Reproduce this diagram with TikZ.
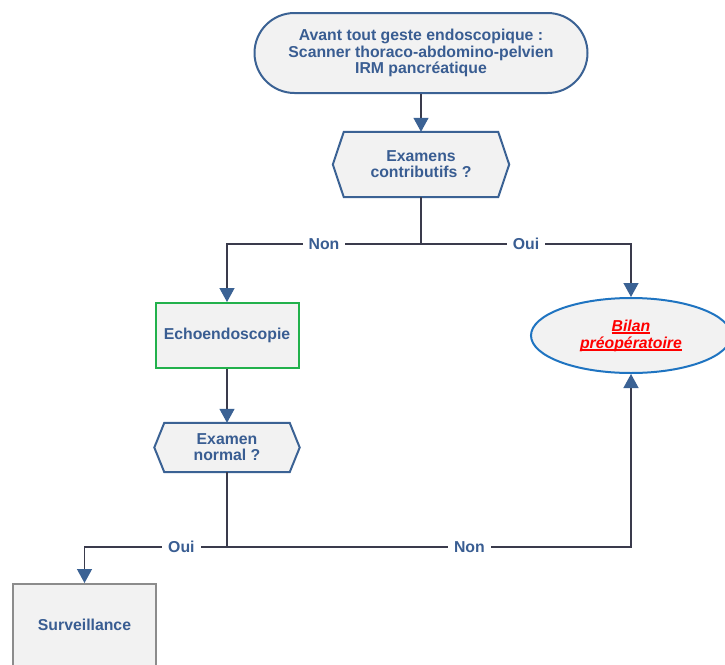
\documentclass[tikz,border=0pt]{standalone}
\usepackage{fontspec}
\setmainfont{Liberation Sans}
\usetikzlibrary{arrows.meta,shapes.geometric,backgrounds}
\definecolor{txtblue}{HTML}{395D92}
\definecolor{edgeblue}{HTML}{3B6294}
\definecolor{linegray}{HTML}{3A3B4C}
\definecolor{boxfill}{HTML}{F2F2F2}
\definecolor{okgreen}{HTML}{22B14C}
\definecolor{ellblue}{HTML}{1F74C1}
\definecolor{boxgray}{HTML}{8C8C8C}

% hexagonal frame behind a named node, #2 = chamfer width
\newcommand\hexframe[2]{%
  \begin{scope}[on background layer]
    \filldraw[hexline] (#1.west) -- ([xshift=#2]#1.north west) -- ([xshift=-#2]#1.north east)
      -- (#1.east) -- ([xshift=-#2]#1.south east) -- ([xshift=#2]#1.south west) -- cycle;
  \end{scope}}

% thick underline for the red link text
\newcommand\thickul[1]{\setbox0\hbox{#1}\leavevmode\rlap{\raisebox{-2.6pt}{\rule{\wd0}{1.4pt}}}\box0}

\begin{document}
\begin{tikzpicture}[x=1pt,y=-1pt,
  every node/.style={font=\fontsize{15.8}{16.2}\selectfont\bfseries, text=txtblue, align=center, inner sep=0pt},
  startbox/.style={draw=edgeblue, line width=2pt, fill=boxfill, rounded corners=40pt,
                   minimum width=333pt, minimum height=80pt},
  hexline/.style={draw=edgeblue, line width=2pt, fill=boxfill},
  echobox/.style={draw=okgreen, line width=2pt, fill=boxfill, minimum width=143pt, minimum height=65pt},
  endbox/.style={draw=ellblue, line width=2pt, fill=boxfill, ellipse, minimum width=200pt, minimum height=75pt},
  survbox/.style={draw=boxgray, line width=2pt, fill=boxfill, minimum width=143pt, minimum height=82pt},
  conn/.style={draw=linegray, line width=1.4pt},
  arr/.style={conn, -{Triangle[width=15pt,length=14pt,color=edgeblue]}},
  lab/.style={fill=white, inner xsep=6pt, inner ysep=2pt}
]
\useasboundingbox (0,0) rectangle (725,664);

% nodes
\node[startbox] (start) at (421,53) {Avant tout geste endoscopique :\\Scanner thoraco-abdomino-pelvien\\IRM pancréatique};
\node[minimum width=176pt, minimum height=65pt] (q1) at (421,164.5) {Examens\\contributifs ?};
\hexframe{q1}{11pt}
\node[echobox] (echo) at (227,335.5) {Echoendoscopie};
\node[endbox, font=\fontsize{15.8}{17}\selectfont\bfseries\itshape, text=red] (bilan) at (631,335.5)
  {\thickul{Bilan}\\\thickul{préopératoire}};
\node[minimum width=145pt, minimum height=49pt] (q2) at (227,447.5) {Examen\\normal ?};
\hexframe{q2}{10pt}
\node[survbox] (surv) at (84.5,625) {Surveillance};

\coordinate (split1) at (421,244);
\coordinate (split2) at (227,547);

% connectors
\draw[arr] (start) -- (q1);
\draw[conn] (q1.south) -- (split1);
\draw[arr] (split1) -| node[lab,pos=0.25] {Non} (echo.north);
\draw[arr] (split1) -| node[lab,pos=0.25] {Oui} (bilan.north);
\draw[arr] (echo) -- (q2);
\draw[conn] (q2.south) -- (split2);
\draw[arr] (split2) -| node[lab,pos=0.16] {Oui} (surv.north);
\draw[arr] (split2) -| node[lab,pos=0.30] {Non} (bilan.south);
\end{tikzpicture}
\end{document}
